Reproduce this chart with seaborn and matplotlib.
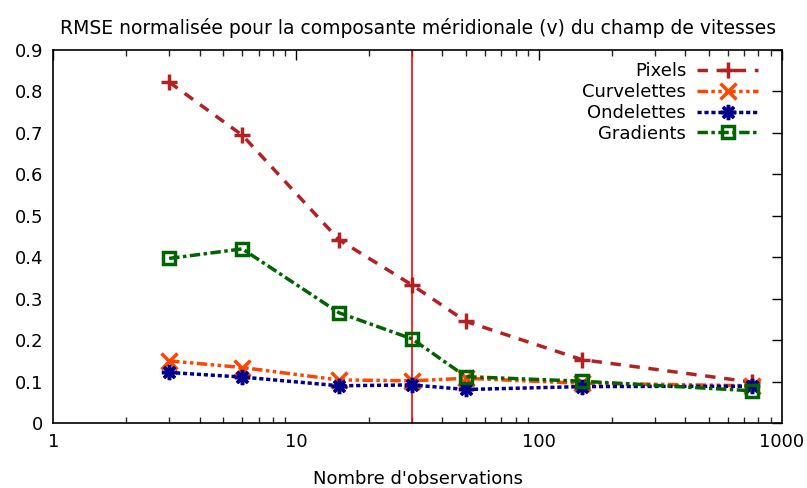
import matplotlib
matplotlib.use("Agg")
import matplotlib.pyplot as plt
import matplotlib.ticker as mticker
import seaborn as sns

sns.set_theme(style="white")
plt.rcParams["font.family"] = ["DejaVu Sans"]
plt.rcParams["text.color"] = "black"
plt.rcParams["axes.labelcolor"] = "black"

nobs = [3, 6, 15, 30, 50, 150, 750]
pixels = [0.822, 0.694, 0.442, 0.333, 0.245, 0.153, 0.099]
curvelettes = [0.150, 0.134, 0.104, 0.102, 0.108, 0.096, 0.090]
ondelettes = [0.122, 0.111, 0.090, 0.092, 0.081, 0.088, 0.089]
gradients = [0.397, 0.420, 0.266, 0.203, 0.112, 0.101, 0.078]
vline_x = 30

series = [
    ("Pixels", pixels, "#b22222", "+", (0, (3, 2.5))),
    ("Curvelettes", curvelettes, "#ff4500", "x", (0, (3, 1, 1, 1, 1, 1))),
    ("Ondelettes", ondelettes, "#00008b", (8, 2, 0), (0, (1.2, 0.8))),
    ("Gradients", gradients, "#006400", "s", (0, (3, 1, 1, 1))),
]

fig, ax = plt.subplots(figsize=(8.07, 4.88), dpi=100)
fig.subplots_adjust(left=0.066, right=0.969, bottom=0.133, top=0.898)

ax.axvline(vline_x, color="red", lw=1.2, zorder=1)

for name, vals, col, mk, ls in series:
    sns.lineplot(
        x=nobs, y=vals, ax=ax, color=col, marker=mk, linestyle=ls, lw=2.5,
        markersize=11 if mk != "s" else 9, markeredgewidth=2.5,
        markerfacecolor="none" if mk == "s" else col, markeredgecolor=col,
        label=name, zorder=3,
    )

ax.set_xscale("log")
ax.set_xlim(1, 1000)
ax.set_ylim(0, 0.9)
ax.set_yticks([0, 0.1, 0.2, 0.3, 0.4, 0.5, 0.6, 0.7, 0.8, 0.9])
ax.yaxis.set_major_formatter(mticker.FuncFormatter(lambda v, p: "0" if v == 0 else f"{v:.1f}"))
ax.xaxis.set_major_locator(mticker.FixedLocator([1, 10, 100, 1000]))
ax.xaxis.set_major_formatter(mticker.FuncFormatter(lambda v, p: f"{int(v)}"))
ax.xaxis.set_minor_locator(mticker.LogLocator(base=10, subs=range(2, 10)))
ax.xaxis.set_minor_formatter(mticker.NullFormatter())

ax.tick_params(axis="both", which="major", direction="in", length=7, width=1,
               top=True, right=True, labelsize=13, colors="black", pad=7)
ax.tick_params(axis="x", which="minor", direction="in", length=4, width=1,
               top=True, bottom=True)
for sp in ax.spines.values():
    sp.set_color("black")
    sp.set_linewidth(1.2)

ax.set_xlabel("Nombre d'observations", fontsize=13, labelpad=14)
ax.set_ylabel("")
ax.set_title("RMSE normalisée pour la composante méridionale (v) du champ de vitesses",
             fontsize=13.5, pad=11, color="black")

leg = ax.legend(loc="upper right", frameon=False, markerfirst=False, fontsize=13,
                handlelength=3.4, labelspacing=0.15, borderaxespad=0.3,
                handletextpad=0.6, bbox_to_anchor=(0.985, 1.0))

fig.savefig("out.png", dpi=100)
